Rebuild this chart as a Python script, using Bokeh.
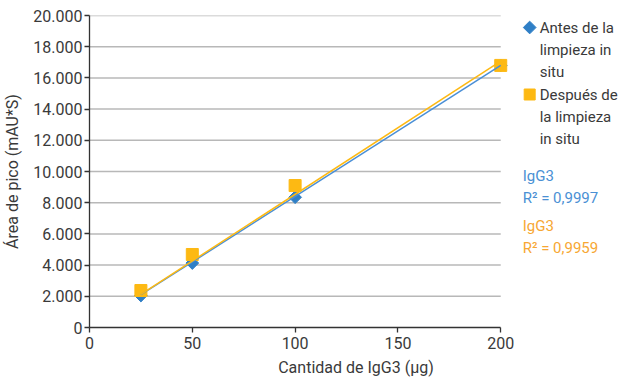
from bokeh.plotting import figure
from bokeh.models import Range1d, FixedTicker
from bokeh.core.properties import value
from bokeh.embed import file_html
from bokeh.resources import INLINE

# Amount of IgG3 injected (µg) and peak area (mAU*S)
cantidad = [25, 50, 100, 200]
antes = [2050, 4130, 8350, 16800]
despues = [2370, 4680, 9100, 16800]

# Linear fits (slope, intercept) and their R²
fit_antes = (84.0, 0.0)
fit_despues = (85.4, -5.0)
r2_antes = "0,9997"
r2_despues = "0,9959"

x_ticks = [0, 50, 100, 150, 200]
y_ticks = [0, 2000, 4000, 6000, 8000, 10000, 12000, 14000, 16000, 18000, 20000]
y_tick_labels = ["0", "2.000", "4.000", "6.000", "8.000", "10.000", "12.000",
                 "14.000", "16.000", "18.000", "20.000"]

FONT = "Roboto"
TXT = "#3a3a3a"
BLUE = "#2f7fc6"
ORANGE = "#fdb913"
BLUE_TXT = "#4a90d4"
ORANGE_TXT = "#f7a733"

# The frame spans the full width on the right so the legend can sit inside it;
# the axis and grid lines stop at x = 200.
LEFT, TOP, BOTTOM, W, H = 88, 15, 56, 622, 383
plot_px = 412                      # pixels between x = 0 and x = 200
x_max = 200 * (W - LEFT) / plot_px

p = figure(width=W, height=H, output_backend="svg", toolbar_location=None,
           x_range=Range1d(0, x_max), y_range=Range1d(0, 20000),
           min_border_left=LEFT, min_border_right=0, min_border_top=TOP,
           min_border_bottom=BOTTOM)
p.outline_line_color = None
p.xgrid.grid_line_color = None
p.ygrid.grid_line_color = None

p.xaxis.ticker = FixedTicker(ticks=x_ticks)
p.xaxis.bounds = (0, 200)
p.yaxis.ticker = FixedTicker(ticks=y_ticks)
p.yaxis.major_label_overrides = {t: l for t, l in zip(y_ticks, y_tick_labels)}
for ax in (p.xaxis, p.yaxis):
    ax.axis_line_color = "#333333"
    ax.axis_line_width = 1.3
    ax.major_tick_line_color = "#333333"
    ax.major_tick_line_width = 1.3
    ax.major_tick_in = 0
    ax.major_tick_out = 5
    ax.minor_tick_line_color = None
    ax.major_label_text_font = FONT
    ax.major_label_text_font_size = "16px"
    ax.major_label_text_color = TXT
    ax.axis_label_text_font = FONT
    ax.axis_label_text_font_size = "16px"
    ax.axis_label_text_font_style = "normal"
    ax.axis_label_text_color = TXT
p.xaxis.axis_label = "Cantidad de IgG3 (µg)"
p.yaxis.axis_label = "Área de pico (mAU*S)"
p.xaxis.major_label_standoff = 4
p.yaxis.major_label_standoff = 2
p.xaxis.axis_label_standoff = 6
p.yaxis.axis_label_standoff = 8

# Horizontal grid lines across the data range only
grid_y = y_ticks[1:]
p.segment(x0=[0] * len(grid_y), x1=[200] * len(grid_y), y0=grid_y, y1=grid_y,
          line_color="#b8b8b8", line_width=1.5)

# Data markers
p.scatter(cantidad, antes, marker="square", angle=0.785398, size=9,
          fill_color=BLUE, line_color=BLUE)
p.scatter(cantidad, despues, marker="square", size=12,
          fill_color=ORANGE, line_color=ORANGE)

# Trend lines over the measured range
x_fit = [cantidad[0], cantidad[-1]]
p.line(x_fit, [fit_antes[0] * x + fit_antes[1] for x in x_fit],
       line_color="#4a8fd6", line_width=1.5)
p.line(x_fit, [fit_despues[0] * x + fit_despues[1] for x in x_fit],
       line_color=ORANGE, line_width=1.5)


# Legend, positioned in pixels and converted to data units
def dx(px):
    return (px - LEFT) * 200 / plot_px


def dy(py):
    return (H - BOTTOM - py) * 20000 / (H - BOTTOM - TOP)


p.scatter([dx(529)], [dy(27)], marker="square", angle=0.785398, size=9,
          fill_color=BLUE, line_color=BLUE)
p.scatter([dx(529)], [dy(94)], marker="square", size=11,
          fill_color=ORANGE, line_color=ORANGE)

legend_rows = [
    (539, 27, "Antes de la", TXT),
    (539, 49, "limpieza in", TXT),
    (539, 71, "situ", TXT),
    (539, 94, "Después de", TXT),
    (539, 116, "la limpieza", TXT),
    (539, 138, "in situ", TXT),
    (522, 175, "IgG3", BLUE_TXT),
    (522, 197, "R² = " + r2_antes, BLUE_TXT),
    (522, 225, "IgG3", ORANGE_TXT),
    (522, 247, "R² = " + r2_despues, ORANGE_TXT),
]
p.text(x=[dx(r[0]) for r in legend_rows], y=[dy(r[1]) for r in legend_rows],
       text=[r[2] for r in legend_rows], text_color=[r[3] for r in legend_rows],
       text_font=value(FONT), text_font_size="15px",
       text_baseline="middle", text_align="left")

open("out.html", "w").write(file_html(p, INLINE))
